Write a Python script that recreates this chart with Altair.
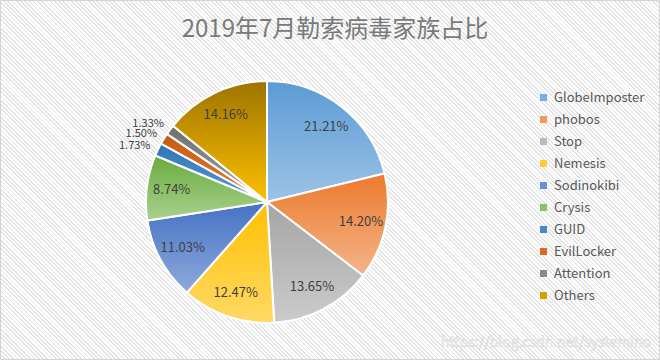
import math
import altair as alt
import pandas as pd

# ---- data ----
families = ["GlobeImposter", "phobos", "Stop", "Nemesis", "Sodinokibi",
            "Crysis", "GUID", "EvilLocker", "Attention", "Others"]
shares = [21.21, 14.20, 13.65, 12.47, 11.03, 8.74, 1.73, 1.50, 1.33, 14.16]
title_text = "2019年7月勒索病毒家族占比"
watermark = "https://blog.csdn.net/systemino"

# ---- styles ----
legend_colors = ["#7aaee0", "#f19a5e", "#bababa", "#ffcc33", "#6a8fd2",
                 "#8cc06a", "#4589c8", "#d96b20", "#8a8a8a", "#d4a000"]
grad_top = ["#5b9bd5", "#ec7a2c", "#a5a5a5", "#ffc000", "#4472c4",
            "#6aab3f", "#2e75b6", "#c55a11", "#6e6e6e", "#9c7400"]
grad_bottom = ["#9dc3e6", "#f5b48a", "#cbcbcb", "#ffd966", "#8eaadc",
               "#a9d18e", "#5b9bd5", "#ed7d31", "#a5a5a5", "#ffc000"]

W, H = 660, 360
CX, CY, R = 267, 202, 121
FONT = "Noto Sans CJK SC"

df = pd.DataFrame({"family": families, "pct": shares, "idx": list(range(len(families)))})
total = sum(shares)
theta_scale = alt.Scale(domain=[0, total], range=[0, 2 * math.pi])

base = (
    alt.Chart(df)
    .transform_window(end="sum(pct)", sort=[alt.SortField("idx")], frame=[None, 0])
    .transform_calculate(
        start="datum.end - datum.pct",
        mid="datum.end - datum.pct / 2",
        label="format(datum.pct, '.2f') + '%'",
    )
)

# hatched background via a striped linear gradient
stripe_stops = []
n_periods = 240
for k in range(n_periods):
    a = k / n_periods
    b = (k + 0.6) / n_periods
    c = (k + 1) / n_periods
    stripe_stops += [
        alt.GradientStop(color="#ffffff", offset=a),
        alt.GradientStop(color="#ffffff", offset=b),
        alt.GradientStop(color="#e3e3e3", offset=b),
        alt.GradientStop(color="#e3e3e3", offset=c),
    ]
bg = alt.Chart(pd.DataFrame({"k": [0]})).mark_rect(
    fill=alt.LinearGradient(gradient="linear", stops=stripe_stops,
                            x1=1, y1=0, x2=-0.191, y2=0.649),
    stroke="#d4d4d4", strokeWidth=1,
).encode(x=alt.value(0.5), x2=alt.value(W - 0.5), y=alt.value(0.5), y2=alt.value(H - 0.5))

solid = base.mark_arc(outerRadius=R, stroke="white", strokeWidth=2).encode(
    theta=alt.Theta("start:Q", scale=theta_scale),
    theta2="end:Q",
    color=alt.Color(
        "family:N",
        scale=alt.Scale(domain=families, range=legend_colors),
        legend=alt.Legend(
            title=None, orient="none", legendX=537, legendY=91,
            symbolType="square", symbolSize=49, symbolStrokeWidth=0,
            labelFont=FONT, labelFontSize=13, labelColor="#595959",
            rowPadding=8, labelOffset=4,
        ),
    ),
    x=alt.value(CX), y=alt.value(CY),
)

grad_layers = []
for i in range(len(families)):
    g = alt.LinearGradient(
        gradient="linear",
        stops=[alt.GradientStop(color=grad_top[i], offset=0),
               alt.GradientStop(color=grad_bottom[i], offset=1)],
        x1=0, y1=0, x2=0, y2=1,
    )
    grad_layers.append(
        base.transform_filter(alt.datum.idx == i)
        .mark_arc(outerRadius=R, stroke="white", strokeWidth=2, fill=g)
        .encode(theta=alt.Theta("start:Q", scale=theta_scale), theta2="end:Q",
                x=alt.value(CX), y=alt.value(CY))
    )

labels_in = base.transform_filter("datum.pct >= 5").mark_text(
    radius=96, font=FONT, fontSize=13, color="#404040"
).encode(theta=alt.Theta("mid:Q", scale=theta_scale), text="label:N",
         x=alt.value(CX), y=alt.value(CY))

labels_out = base.transform_filter("datum.pct < 5").mark_text(
    radius=136, align="right", font=FONT, fontSize=11, color="#404040",
    dx=6, dy=3,
).encode(theta=alt.Theta("mid:Q", scale=theta_scale), text="label:N",
         x=alt.value(CX), y=alt.value(CY))

wm = alt.Chart(pd.DataFrame({"t": [watermark]})).mark_text(
    align="right", baseline="middle", font=FONT, fontSize=14,
    fill="#ffffff", stroke="#d6d6d6", strokeWidth=0.6,
).encode(text="t:N", x=alt.value(651), y=alt.value(343))

chart = (
    alt.layer(bg, solid, *grad_layers, labels_in, labels_out, wm)
    .properties(
        width=W, height=H,
        autosize=alt.AutoSizeParams(type="none"),
        padding=0,
        title=alt.Title(title_text, fontSize=24, color="#7a7a7a", font=FONT,
                        fontWeight="normal", anchor="middle", dy=46, dx=5),
    )
    .configure_view(stroke=None)
)

chart.save("out.html", embed_options={"renderer": "svg", "actions": False})
